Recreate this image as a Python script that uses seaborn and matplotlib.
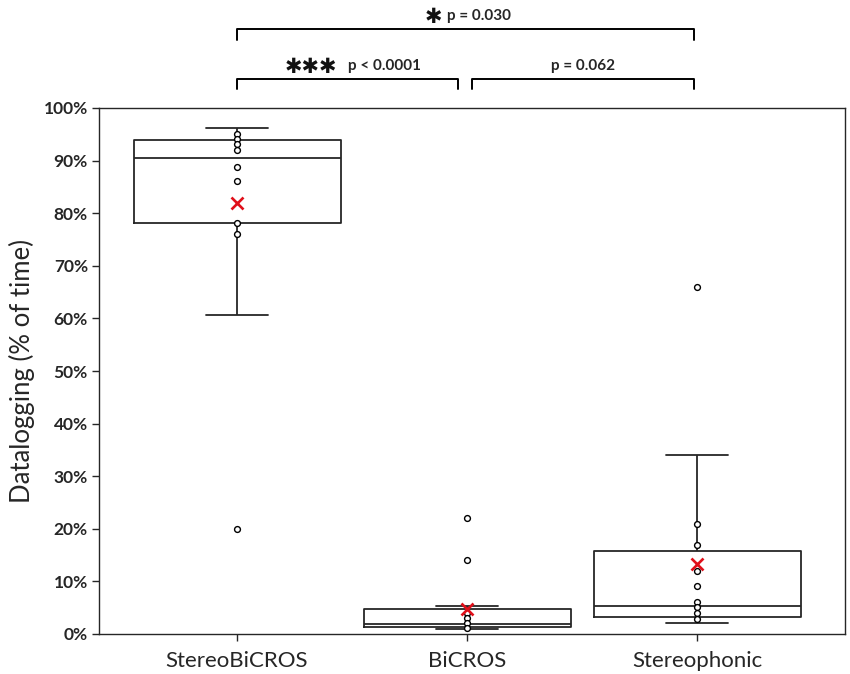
import numpy as np
import pandas as pd
import matplotlib
matplotlib.use("Agg")
import matplotlib.pyplot as plt
import matplotlib.transforms as mtransforms
import seaborn as sns

# ---- data (percent of time) ----
groups = ["StereoBiCROS", "BiCROS", "Stereophonic"]
whisker_low = [60.6, 1.0, 2.0]
quartile_1 = [78.1, 1.3, 3.2]
medians = [90.5, 1.9, 5.4]
quartile_3 = [93.9, 4.8, 15.8]
whisker_high = [96.2, 5.4, 34.0]
means = [81.9, 4.8, 13.4]

points_stereobicros = [95.0, 94.2, 93.2, 92.0, 88.8, 86.2, 78.1, 76.1, 20.0]
points_bicros = [22.0, 14.0, 3.9, 3.0, 2.0, 1.1]
points_stereophonic = [66.0, 21.0, 17.0, 12.0, 9.1, 6.0, 5.1, 3.9, 2.9]

y_ticks = [0, 10, 20, 30, 40, 50, 60, 70, 80, 90, 100]
y_label = "Datalogging (% of time)"

# ---- tables ----
box_rows = []
for g, lo, q1, md, q3, hi in zip(groups, whisker_low, quartile_1, medians, quartile_3, whisker_high):
    for v in (lo, q1, md, q3, hi):
        box_rows.append({"group": g, "value": v})
box_df = pd.DataFrame(box_rows)

pt_rows = []
for g, pts in zip(groups, [points_stereobicros, points_bicros, points_stereophonic]):
    for v in pts:
        pt_rows.append({"group": g, "value": v})
pt_df = pd.DataFrame(pt_rows)
mean_df = pd.DataFrame({"group": groups, "value": means})

sns.set_style("ticks")
plt.rcParams["font.family"] = ["Lato", "DejaVu Sans"]

fig = plt.figure(figsize=(8.5, 6.74), dpi=100)
ax = fig.add_axes([99 / 850, 40 / 674, 746 / 850, 526 / 674])

line_col = "#262626"
sns.boxplot(data=box_df, x="group", y="value", order=groups, whis=1.5,
            showfliers=False, fill=False, color=line_col, linecolor=line_col,
            linewidth=1.3, width=0.9, capwidths=0.27, ax=ax)
sns.stripplot(data=pt_df, x="group", y="value", order=groups, jitter=False,
              color="white", edgecolor="black", linewidth=1.0, size=4.2,
              zorder=4, ax=ax)
sns.pointplot(data=mean_df, x="group", y="value", order=groups,
              linestyle="none", marker="x", markersize=8, markeredgewidth=1.9,
              color="#e0101a", errorbar=None, zorder=5, ax=ax)

ax.set_xlim(-0.6, 2.643)
ax.set_ylim(0, 100)
ax.set_yticks(y_ticks)
ax.set_yticklabels([f"{t}%" for t in y_ticks], fontsize=12.5, fontweight="bold")
ax.set_xticks(range(len(groups)))
ax.set_xticklabels(groups, fontsize=16)
ax.set_xlabel("")
ax.set_ylabel(y_label, fontsize=18.5, labelpad=6)
ax.tick_params(axis="both", direction="out", length=5, width=1, color=line_col)
ax.tick_params(axis="x", pad=7)
ax.tick_params(axis="y", pad=3)
for s in ax.spines.values():
    s.set_visible(True)
    s.set_color(line_col)
    s.set_linewidth(1.0)

# ---- significance brackets ----
tr = mtransforms.blended_transform_factory(ax.transData, ax.transAxes)
def bracket(x0, x1, y, drop):
    ax.plot([x0, x0, x1, x1], [y - drop, y, y, y - drop], color="black",
            lw=1.4, transform=tr, clip_on=False)

bracket(0.0, 1.987, 1.150, 0.021)
bracket(0.0, 0.96, 1.055, 0.019)
bracket(1.02, 1.987, 1.055, 0.019)

star_font = dict(family="DejaVu Sans", fontweight="bold", color="#111111")
ax.text(0.852, 1.173, "✱", transform=tr, ha="center", va="center", fontsize=15, **star_font)
ax.text(0.913, 1.175, "p = 0.030", transform=tr, ha="left", va="center", fontsize=11, fontweight="bold")
ax.text(0.322, 1.078, "✱✱✱", transform=tr, ha="center", va="center", fontsize=15, **star_font)
ax.text(0.483, 1.080, "p < 0.0001", transform=tr, ha="left", va="center", fontsize=11, fontweight="bold")
ax.text(1.504, 1.080, "p = 0.062", transform=tr, ha="center", va="center", fontsize=11, fontweight="bold")

fig.savefig("out.png", dpi=100)
